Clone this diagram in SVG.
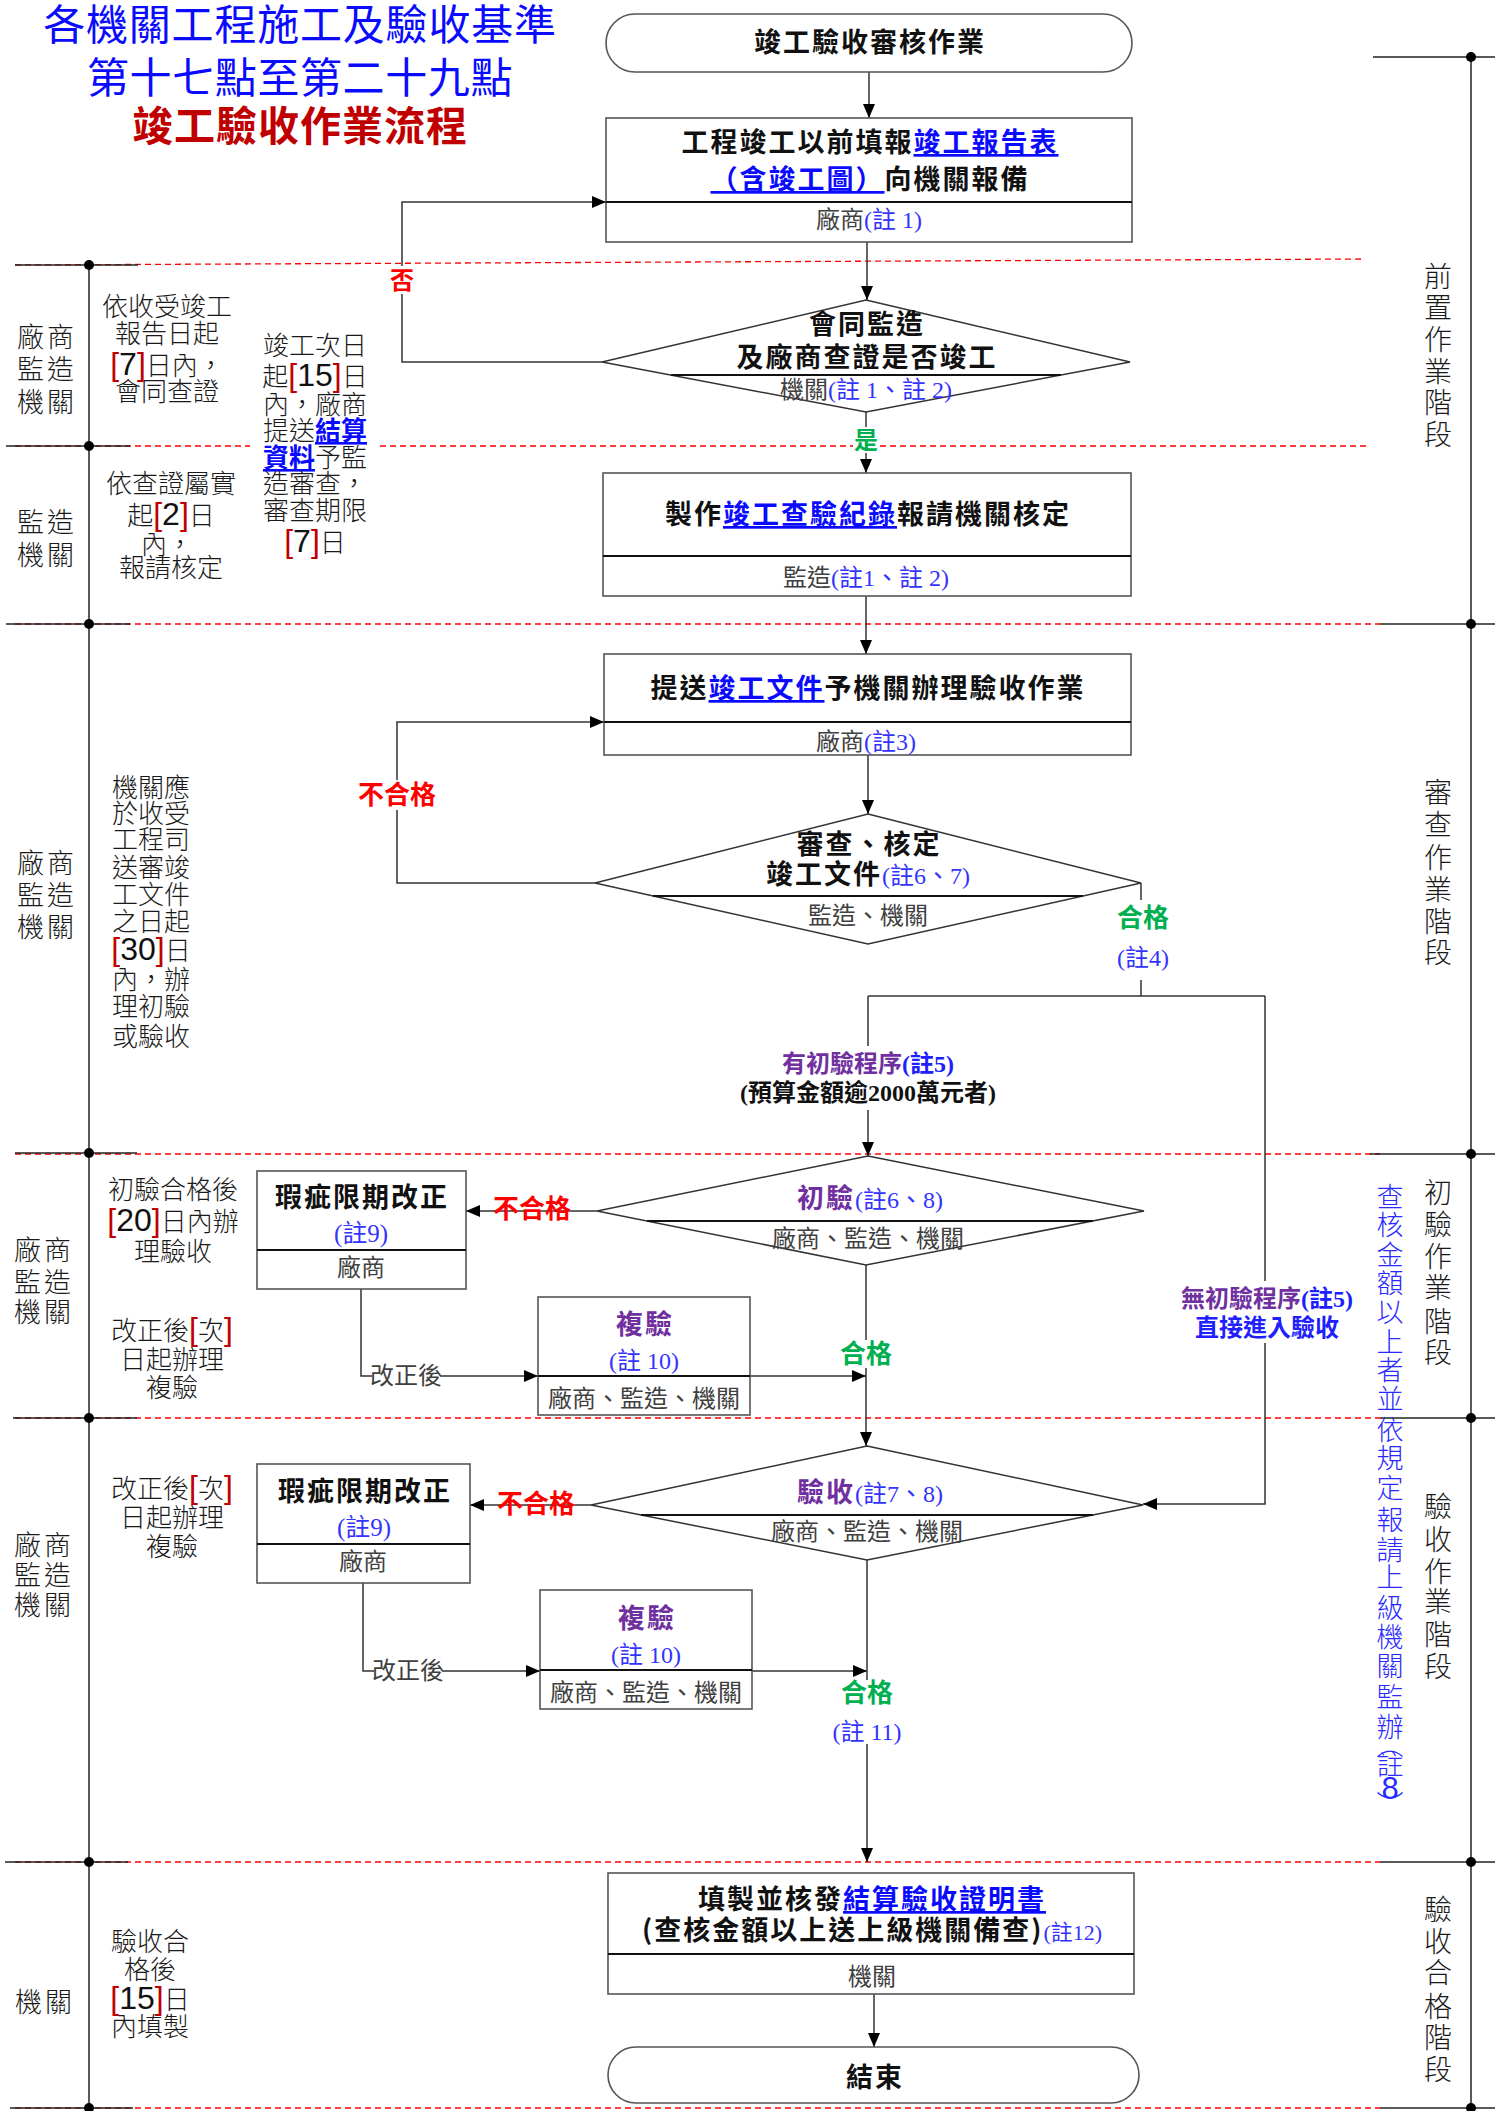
<svg xmlns="http://www.w3.org/2000/svg" width="1495" height="2111" viewBox="0 0 1495 2111">
<style>
text{font-family:'Noto Sans CJK TC',sans-serif;}
.t1{font-size:42px;fill:#0a0aff;text-anchor:middle;}
.t3{font-size:41px;fill:#c00000;font-weight:700;text-anchor:middle;letter-spacing:1px;}
.nt{font-size:27px;font-weight:700;fill:#111;text-anchor:middle;letter-spacing:2px;}
.sub{font-family:'Liberation Serif','Noto Sans CJK TC',serif;font-size:24px;fill:#404040;text-anchor:middle;}
.nb{font-family:'Liberation Serif','Noto Sans CJK TC',serif;fill:#3333ff;font-weight:400;letter-spacing:0;}
.lnk{fill:#0a0aff;text-decoration:underline;}
.pur{fill:#7030a0;}
.note{font-size:26px;font-weight:300;fill:#1a1a1a;text-anchor:middle;}
.rb{fill:#c00000;font-family:'Liberation Sans',sans-serif;font-size:32px;}
.num{fill:#111;font-family:'Liberation Sans',sans-serif;font-size:32px;}
.lane{font-size:27px;font-weight:300;fill:#1a1a1a;text-anchor:middle;letter-spacing:3px;}
.stage{font-size:28px;font-weight:300;fill:#1a1a1a;text-anchor:middle;}
.red{fill:#ff0000;font-weight:700;text-anchor:middle;}
.grn{fill:#00b050;font-weight:700;text-anchor:middle;}
.box{fill:#fff;stroke:#555;stroke-width:1.6;}
.div{stroke:#111;stroke-width:2;}
.dash{stroke:#ff0000;stroke-width:1.3;stroke-dasharray:6 4;fill:none;}
.sep{stroke:#222;stroke-width:1.5;}
.con{stroke:#333;stroke-width:1.5;fill:none;}
.lab{font-family:'Liberation Serif','Noto Sans CJK TC',serif;font-weight:700;font-size:24px;text-anchor:middle;}
</style>
<defs>
<marker id="ah" markerUnits="userSpaceOnUse" markerWidth="14" markerHeight="12" refX="14" refY="6" orient="auto"><path d="M0,0 L14,6 L0,12 z" fill="#000"/></marker>
</defs>
<rect width="1495" height="2111" fill="#fff"/>

<g id="title">
<text class="t1" x="300" y="40" letter-spacing="0.8">各機關工程施工及驗收基準</text>
<text class="t1" x="300" y="93" letter-spacing="0.6">第十七點至第二十九點</text>
<text class="t3" x="300" y="141">竣工驗收作業流程</text>
</g>

<g id="lanes">
<line class="dash" x1="15" y1="265" x2="1365" y2="259"/>
<line class="dash" x1="15" y1="446" x2="250" y2="446"/>
<line class="dash" x1="380" y1="446" x2="1366" y2="446"/>
<line class="dash" x1="15" y1="624" x2="1380" y2="624"/>
<line class="dash" x1="15" y1="1154" x2="1380" y2="1154"/>
<line class="dash" x1="15" y1="1418" x2="1380" y2="1418"/>
<line class="dash" x1="15" y1="1862" x2="1380" y2="1862"/>
<line class="dash" x1="15" y1="2108" x2="1380" y2="2108"/>
<line class="sep" x1="89" y1="265" x2="89" y2="2108"/>
<line class="sep" x1="1471" y1="57" x2="1471" y2="2108"/>
<line class="sep" x1="15" y1="265" x2="138" y2="265"/>
<line class="sep" x1="6" y1="446" x2="130" y2="446"/>
<line class="sep" x1="6" y1="624" x2="130" y2="624"/>
<line class="sep" x1="15" y1="1153" x2="137" y2="1153"/>
<line class="sep" x1="13" y1="1418" x2="137" y2="1418"/>
<line class="sep" x1="5" y1="1862" x2="128" y2="1862"/>
<line class="sep" x1="10" y1="2108" x2="133" y2="2108"/>
<line class="sep" x1="1373" y1="57" x2="1495" y2="57"/>
<line class="sep" x1="1380" y1="624" x2="1495" y2="624"/>
<line class="sep" x1="1370" y1="1154" x2="1495" y2="1154"/>
<line class="sep" x1="1380" y1="1418" x2="1495" y2="1418"/>
<line class="sep" x1="1380" y1="1862" x2="1495" y2="1862"/>
<line class="sep" x1="1380" y1="2108" x2="1495" y2="2108"/>
<g fill="#000">
<circle cx="89" cy="265" r="5"/><circle cx="89" cy="446" r="5"/><circle cx="89" cy="624" r="5"/><circle cx="89" cy="1153" r="5"/><circle cx="89" cy="1418" r="5"/><circle cx="89" cy="1862" r="5"/><circle cx="89" cy="2108" r="5"/>
<circle cx="1471" cy="57" r="5"/><circle cx="1471" cy="624" r="5"/><circle cx="1471" cy="1154" r="5"/><circle cx="1471" cy="1418" r="5"/><circle cx="1471" cy="1862" r="5"/><circle cx="1471" cy="2108" r="5"/>
</g>
</g>

<g id="lane-labels">
<text class="lane" x="47"><tspan x="47" y="347">廠商</tspan><tspan x="47" y="379">監造</tspan><tspan x="47" y="412">機關</tspan></text>
<text class="lane" x="47"><tspan x="47" y="532">監造</tspan><tspan x="47" y="565">機關</tspan></text>
<text class="lane" x="47"><tspan x="47" y="873">廠商</tspan><tspan x="47" y="905">監造</tspan><tspan x="47" y="937">機關</tspan></text>
<text class="lane" x="44"><tspan x="44" y="1260">廠商</tspan><tspan x="44" y="1292">監造</tspan><tspan x="44" y="1322">機關</tspan></text>
<text class="lane" x="44"><tspan x="44" y="1555">廠商</tspan><tspan x="44" y="1585">監造</tspan><tspan x="44" y="1615">機關</tspan></text>
<text class="lane" x="45" y="2012">機關</text>
</g>

<g id="stage-labels">
<text class="stage"><tspan x="1438" y="287">前</tspan><tspan x="1438" y="318">置</tspan><tspan x="1438" y="350">作</tspan><tspan x="1438" y="382">業</tspan><tspan x="1438" y="413">階</tspan><tspan x="1438" y="445">段</tspan></text>
<text class="stage"><tspan x="1438" y="803">審</tspan><tspan x="1438" y="835">查</tspan><tspan x="1438" y="868">作</tspan><tspan x="1438" y="900">業</tspan><tspan x="1438" y="932">階</tspan><tspan x="1438" y="963">段</tspan></text>
<text class="stage"><tspan x="1438" y="1203">初</tspan><tspan x="1438" y="1235">驗</tspan><tspan x="1438" y="1267">作</tspan><tspan x="1438" y="1298">業</tspan><tspan x="1438" y="1332">階</tspan><tspan x="1438" y="1363">段</tspan></text>
<text class="stage"><tspan x="1438" y="1517">驗</tspan><tspan x="1438" y="1550">收</tspan><tspan x="1438" y="1582">作</tspan><tspan x="1438" y="1612">業</tspan><tspan x="1438" y="1645">階</tspan><tspan x="1438" y="1677">段</tspan></text>
<text class="stage"><tspan x="1438" y="1920">驗</tspan><tspan x="1438" y="1952">收</tspan><tspan x="1438" y="1983">合</tspan><tspan x="1438" y="2017">格</tspan><tspan x="1438" y="2048">階</tspan><tspan x="1438" y="2080">段</tspan></text>
<text font-size="27" font-weight="300" fill="#2a2aff" text-anchor="middle"><tspan x="1390" y="1207">查</tspan><tspan x="1390" y="1235">核</tspan><tspan x="1390" y="1265">金</tspan><tspan x="1390" y="1293">額</tspan><tspan x="1390" y="1322">以</tspan><tspan x="1390" y="1352">上</tspan><tspan x="1390" y="1380">者</tspan><tspan x="1390" y="1409">並</tspan><tspan x="1390" y="1440">依</tspan><tspan x="1390" y="1468">規</tspan><tspan x="1390" y="1498">定</tspan><tspan x="1390" y="1530">報</tspan><tspan x="1390" y="1560">請</tspan><tspan x="1390" y="1587">上</tspan><tspan x="1390" y="1618">級</tspan><tspan x="1390" y="1647">機</tspan><tspan x="1390" y="1676">關</tspan><tspan x="1390" y="1707">監</tspan><tspan x="1390" y="1737">辦</tspan><tspan x="1390" y="1755">︵</tspan><tspan x="1390" y="1775">註</tspan><tspan x="1390" y="1799" font-family="'Liberation Sans',sans-serif" font-size="31">8</tspan><tspan x="1390" y="1815">︶</tspan></text>
</g>

<g id="notes">
<text class="note"><tspan x="167" y="316">依收受竣工</tspan><tspan x="167" y="343">報告日起</tspan><tspan x="167" y="375"><tspan class="rb">[</tspan><tspan class="num">7</tspan><tspan class="rb">]</tspan>日內，</tspan><tspan x="167" y="401">會同查證</tspan></text>
<rect x="256" y="330" width="120" height="232" fill="#fff"/>
<text class="note"><tspan x="315" y="355">竣工次日</tspan><tspan x="315" y="386">起<tspan class="rb">[</tspan><tspan class="num">15</tspan><tspan class="rb">]</tspan>日</tspan><tspan x="315" y="414">內，廠商</tspan><tspan x="315" y="440">提送<tspan class="lnk" font-weight="700">結算</tspan></tspan><tspan x="315" y="467"><tspan class="lnk" font-weight="700">資料</tspan>予監</tspan><tspan x="315" y="493">造審查，</tspan><tspan x="315" y="520">審查期限</tspan><tspan x="315" y="552"><tspan class="rb">[</tspan><tspan class="num">7</tspan><tspan class="rb">]</tspan>日</tspan></text>
<text class="note"><tspan x="171" y="493">依查證屬實</tspan><tspan x="171" y="525">起<tspan class="rb">[</tspan><tspan class="num">2</tspan><tspan class="rb">]</tspan>日</tspan><tspan x="167" y="554">內，</tspan><tspan x="171" y="577">報請核定</tspan></text>
<text class="note"><tspan x="151" y="797">機關應</tspan><tspan x="151" y="823">於收受</tspan><tspan x="151" y="849">工程司</tspan><tspan x="151" y="877">送審竣</tspan><tspan x="151" y="904">工文件</tspan><tspan x="151" y="931">之日起</tspan><tspan x="151" y="960"><tspan class="rb">[</tspan><tspan class="num">30</tspan><tspan class="rb">]</tspan>日</tspan><tspan x="151" y="989">內，辦</tspan><tspan x="151" y="1016">理初驗</tspan><tspan x="151" y="1046">或驗收</tspan></text>
<text class="note"><tspan x="173" y="1199">初驗合格後</tspan><tspan x="173" y="1231"><tspan class="rb">[</tspan><tspan class="num">20</tspan><tspan class="rb">]</tspan>日內辦</tspan><tspan x="173" y="1261">理驗收</tspan></text>
<text class="note"><tspan x="172" y="1340">改正後<tspan class="rb">[</tspan>次<tspan class="rb">]</tspan></tspan><tspan x="172" y="1369">日起辦理</tspan><tspan x="172" y="1397">複驗</tspan></text>
<text class="note"><tspan x="172" y="1498">改正後<tspan class="rb">[</tspan>次<tspan class="rb">]</tspan></tspan><tspan x="172" y="1527">日起辦理</tspan><tspan x="172" y="1556">複驗</tspan></text>
<text class="note"><tspan x="150" y="1951">驗收合</tspan><tspan x="150" y="1979">格後</tspan><tspan x="150" y="2009"><tspan class="rb">[</tspan><tspan class="num">15</tspan><tspan class="rb">]</tspan>日</tspan><tspan x="150" y="2036">內填製</tspan></text>
</g>

<g id="connectors">
<path class="con" d="M869,72 V118" marker-end="url(#ah)"/>
<path class="con" d="M867,242 V300" marker-end="url(#ah)"/>
<path class="con" d="M602,362 H402 V202 H606" marker-end="url(#ah)"/>
<path class="con" d="M866,412 V473" marker-end="url(#ah)"/>
<path class="con" d="M866,596 V654" marker-end="url(#ah)"/>
<path class="con" d="M868,755 V814" marker-end="url(#ah)"/>
<path class="con" d="M595,883 H397 V722 H604" marker-end="url(#ah)"/>
<path class="con" d="M1141,883 V996"/>
<path class="con" d="M868,996 H1265"/>
<path class="con" d="M868,996 V1156" marker-end="url(#ah)"/>
<path class="con" d="M1265,996 V1504 H1143" marker-end="url(#ah)"/>
<path class="con" d="M597,1211 H466" marker-end="url(#ah)"/>
<path class="con" d="M866,1265 V1446" marker-end="url(#ah)"/>
<path class="con" d="M361,1289 V1376 H538" marker-end="url(#ah)"/>
<path class="con" d="M750,1376 H866" marker-end="url(#ah)"/>
<path class="con" d="M591,1505 H470" marker-end="url(#ah)"/>
<path class="con" d="M363,1583 V1671 H540" marker-end="url(#ah)"/>
<path class="con" d="M752,1671 H867" marker-end="url(#ah)"/>
<path class="con" d="M867,1560 V1862" marker-end="url(#ah)"/>
<path class="con" d="M874,1994 V2047" marker-end="url(#ah)"/>
</g>

<g id="connector-labels">
<rect x="389" y="266" width="26" height="28" fill="#fff"/>
<text class="red" x="402" y="289" font-size="24">否</text>
<rect x="853" y="427" width="26" height="26" fill="#fff"/>
<text class="grn" x="866" y="449" font-size="24">是</text>
<rect x="356" y="780" width="82" height="30" fill="#fff"/>
<text class="red" x="397" y="804" font-size="26">不合格</text>
<rect x="1112" y="900" width="62" height="80" fill="#fff"/>
<text class="grn" x="1143" y="927" font-size="26">合格</text>
<text class="sub" x="1143" y="966"><tspan class="nb">(註4)</tspan></text>
<rect x="736" y="1046" width="266" height="64" fill="#fff"/>
<text class="lab" x="868" y="1072"><tspan class="pur">有初驗程序</tspan><tspan fill="#2020ff">(註5)</tspan></text>
<text class="lab" x="868" y="1101" fill="#111">(預算金額逾2000萬元者)</text>
<rect x="1178" y="1281" width="178" height="62" fill="#fff"/>
<text class="lab" x="1267" y="1307"><tspan class="pur">無初驗程序</tspan><tspan fill="#2020ff">(註5)</tspan></text>
<text class="lab" x="1267" y="1336" fill="#2020ff">直接進入驗收</text>
<text class="red" x="532" y="1218" font-size="26">不合格</text>
<text class="red" x="536" y="1513" font-size="26">不合格</text>
<rect x="372" y="1364" width="68" height="24" fill="#fff"/>
<text class="sub" x="406" y="1384" font-size="21">改正後</text>
<rect x="374" y="1659" width="68" height="24" fill="#fff"/>
<text class="sub" x="408" y="1679" font-size="21">改正後</text>
<rect x="843" y="1340" width="46" height="28" fill="#fff"/>
<text class="grn" x="866" y="1363" font-size="26">合格</text>
<rect x="830" y="1680" width="74" height="64" fill="#fff"/>
<text class="grn" x="867" y="1702" font-size="26">合格</text>
<text class="sub" x="867" y="1740"><tspan class="nb">(註 11)</tspan></text>
</g>

<g id="n-start">
<rect x="606" y="14" width="526" height="58" rx="29" fill="#fff" stroke="#555" stroke-width="1.6"/>
<text class="nt" x="870" y="52">竣工驗收審核作業</text>
</g>

<g id="n-report">
<rect class="box" x="606" y="118" width="526" height="124"/>
<line class="div" x1="606" y1="202" x2="1132" y2="202"/>
<text class="nt" x="870" y="152">工程竣工以前填報<tspan class="lnk">竣工報告表</tspan></text>
<text class="nt" x="870" y="189"><tspan class="lnk">（含竣工圖）</tspan>向機關報備</text>
<text class="sub" x="869" y="228">廠商<tspan class="nb">(註 1)</tspan></text>
</g>

<g id="n-check">
<polygon points="866,300 1130,362 866,412 602,362" fill="#fff" stroke="#333" stroke-width="1.5"/>
<line class="div" x1="671" y1="375" x2="1061" y2="375"/>
<text class="nt" x="867" y="334">會同監造</text>
<text class="nt" x="867" y="367">及廠商查證是否竣工</text>
<text class="sub" x="866" y="398">機關<tspan class="nb">(註 1、註 2)</tspan></text>
</g>

<g id="n-record">
<rect class="box" x="603" y="473" width="528" height="123"/>
<line class="div" x1="603" y1="556" x2="1131" y2="556"/>
<text class="nt" x="868" y="524">製作<tspan class="lnk">竣工查驗紀錄</tspan>報請機關核定</text>
<text class="sub" x="866" y="586">監造<tspan class="nb">(註1、註 2)</tspan></text>
</g>

<g id="n-submit">
<rect class="box" x="604" y="654" width="527" height="101"/>
<line class="div" x1="604" y1="722" x2="1131" y2="722"/>
<text class="nt" x="868" y="698">提送<tspan class="lnk">竣工文件</tspan>予機關辦理驗收作業</text>
<text class="sub" x="866" y="750">廠商<tspan class="nb">(註3)</tspan></text>
</g>

<g id="n-review">
<polygon points="868,814 1141,883 868,944 595,883" fill="#fff" stroke="#333" stroke-width="1.5"/>
<line class="div" x1="653" y1="896" x2="1083" y2="896"/>
<text class="nt" x="869" y="854">審查、核定</text>
<text class="nt" x="868" y="884">竣工文件<tspan class="nb" font-size="24">(註6、7)</tspan></text>
<text class="sub" x="868" y="924">監造、機關</text>
</g>

<g id="n-initial">
<polygon points="868,1156 1144,1211 866,1265 597,1211" fill="#fff" stroke="#333" stroke-width="1.5"/>
<line class="div" x1="647" y1="1221" x2="1093" y2="1221"/>
<text class="nt" x="870" y="1208"><tspan class="pur">初驗</tspan><tspan class="nb" font-size="24">(註6、8)</tspan></text>
<text class="sub" x="868" y="1247">廠商、監造、機關</text>
</g>

<g id="n-defect1">
<rect class="box" x="257" y="1171" width="209" height="118"/>
<line class="div" x1="257" y1="1250" x2="466" y2="1250"/>
<text class="nt" x="362" y="1207">瑕疵限期改正</text>
<text class="sub" x="361" y="1242"><tspan class="nb" font-size="25">(註9)</tspan></text>
<text class="sub" x="361" y="1276">廠商</text>
</g>

<g id="n-reinspect1">
<rect class="box" x="538" y="1297" width="212" height="118"/>
<line class="div" x1="538" y1="1376" x2="750" y2="1376"/>
<text class="nt" x="645" y="1334"><tspan class="pur">複驗</tspan></text>
<text class="sub" x="644" y="1369"><tspan class="nb" font-size="24">(註 10)</tspan></text>
<text class="sub" x="644" y="1407">廠商、監造、機關</text>
</g>

<g id="n-accept">
<polygon points="867,1446 1143,1505 867,1560 591,1505" fill="#fff" stroke="#333" stroke-width="1.5"/>
<line class="div" x1="641" y1="1515" x2="1093" y2="1515"/>
<text class="nt" x="870" y="1502"><tspan class="pur">驗收</tspan><tspan class="nb" font-size="24">(註7、8)</tspan></text>
<text class="sub" x="867" y="1540">廠商、監造、機關</text>
</g>

<g id="n-defect2">
<rect class="box" x="257" y="1464" width="213" height="119"/>
<line class="div" x1="257" y1="1544" x2="470" y2="1544"/>
<text class="nt" x="365" y="1501">瑕疵限期改正</text>
<text class="sub" x="364" y="1536"><tspan class="nb" font-size="25">(註9)</tspan></text>
<text class="sub" x="363" y="1570">廠商</text>
</g>

<g id="n-reinspect2">
<rect class="box" x="540" y="1590" width="212" height="119"/>
<line class="div" x1="540" y1="1670" x2="752" y2="1670"/>
<text class="nt" x="647" y="1628"><tspan class="pur">複驗</tspan></text>
<text class="sub" x="646" y="1663"><tspan class="nb" font-size="24">(註 10)</tspan></text>
<text class="sub" x="646" y="1701">廠商、監造、機關</text>
</g>

<g id="n-cert">
<rect class="box" x="608" y="1873" width="526" height="121"/>
<line class="div" x1="608" y1="1954" x2="1134" y2="1954"/>
<text class="nt" x="872" y="1909">填製並核發<tspan class="lnk">結算驗收證明書</tspan></text>
<text class="nt" x="872" y="1940">(查核金額以上送上級機關備查)<tspan class="nb" font-size="22">(註12)</tspan></text>
<text class="sub" x="872" y="1985">機關</text>
</g>

<g id="n-end">
<rect x="608" y="2047" width="531" height="56" rx="28" fill="#fff" stroke="#555" stroke-width="1.6"/>
<text class="nt" x="875" y="2087" font-size="28">結束</text>
</g>
</svg>
